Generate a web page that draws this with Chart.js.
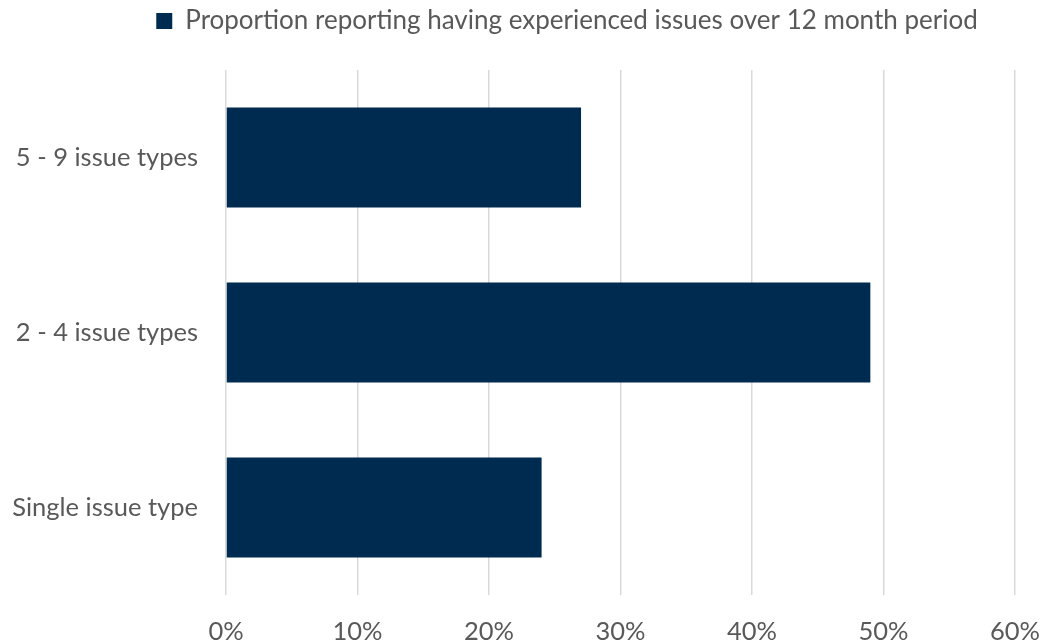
<!DOCTYPE html>
<html><head><meta charset="utf-8">
<script src="https://cdn.jsdelivr.net/npm/chart.js@4"></script>
<style>html,body{margin:0;padding:0;background:#fff}#wrap{width:1040px;height:644px}</style>
</head><body><div id="wrap"><canvas id="c" width="1040" height="644"></canvas></div>
<script>
const categories = ["5 - 9 issue types", "2 - 4 issue types", "Single issue type"];
const seriesName = "Proportion reporting having experienced issues over 12 month period";
const values = [27, 49, 24];
const xTicks = [0, 10, 20, 30, 40, 50, 60];

const FONT = "Lato, 'Open Sans', sans-serif";
const TXT = "#595959";
const legendHeight = {
  id: 'legendHeight',
  beforeLayout(chart) {
    const lg = chart.legend;
    if (lg && !lg._wrapped) {
      const orig = lg.fit.bind(lg);
      lg.fit = function () { orig(); this.height = 70; };
      lg._wrapped = true;
    }
  },
  afterLayout(chart) {
    const lg = chart.legend;
    if (lg) { lg.left += 43; lg.right += 43; }
  }
};
new Chart(document.getElementById('c'), {
  type: 'bar',
  data: {
    labels: categories,
    datasets: [{
      label: seriesName,
      data: values,
      backgroundColor: '#002B50',
      borderWidth: 0,
      categoryPercentage: 1,
      barPercentage: 0.571
    }]
  },
  plugins: [legendHeight],
  options: {
    indexAxis: 'y',
    responsive: false,
    animation: false,
    layout: { padding: { left: 8, right: 0, top: 0, bottom: 0 } },
    plugins: {
      tooltip: { enabled: false },
      legend: {
        position: 'top',
        labels: { color: TXT, font: { family: FONT, size: 26 }, boxWidth: 16, boxHeight: 16, padding: 8 }
      }
    },
    scales: {
      x: {
        min: 0, max: 60,
        afterBuildTicks(s) { s.ticks = xTicks.map(v => ({ value: v })); },
        afterFit(s) { s.height = 49; s.paddingRight = 25; },
        ticks: { color: TXT, font: { family: FONT, size: 25.5 }, padding: 21, callback: v => v + '%' },
        grid: { color: '#D9D9D9', lineWidth: 1.5, drawTicks: false },
        border: { display: false }
      },
      y: {
        afterFit(s) { s.width = 218; },
        ticks: { color: TXT, font: { family: FONT, size: 25.5 }, padding: 28 },
        grid: { display: false, drawTicks: false },
        border: { display: false }
      }
    }
  }
});
</script></body></html>
